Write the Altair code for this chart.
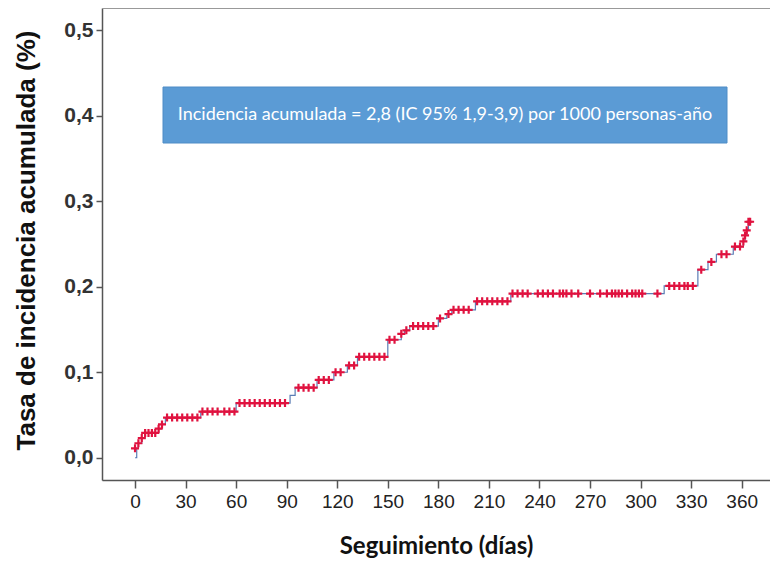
import altair as alt
import pandas as pd

# Step curve (day of event, cumulative incidence % after the step)
step_days = [0, 1, 2, 4, 6, 14, 16, 18, 39, 60, 92, 95, 108, 118, 126, 132, 150,
             158, 160, 163, 180, 185, 188, 202, 223, 314, 334, 340, 345, 355, 361,
             362, 363, 364, 365]
step_values = [0.000, 0.011, 0.017, 0.023, 0.029, 0.034, 0.039, 0.047, 0.054, 0.064,
               0.073, 0.082, 0.091, 0.100, 0.108, 0.118, 0.138, 0.145, 0.149, 0.154,
               0.163, 0.168, 0.173, 0.183, 0.192, 0.201, 0.220, 0.229, 0.238, 0.247,
               0.253, 0.260, 0.266, 0.276, 0.276]

# Censored observations (day, cumulative incidence %)
censor_days = [0, 2, 4, 6, 8, 10, 12, 14, 16,
               19, 22, 25, 28, 31, 34, 37,
               40, 43, 46, 49, 53, 56, 59,
               62, 65, 68, 71, 74, 77, 80, 83, 86, 89,
               97, 100, 103, 106,
               109, 112, 115,
               119, 122,
               127, 130,
               133, 136, 139, 142, 145, 148,
               151, 154, 158, 161,
               165, 168, 171, 174, 177,
               181, 186,
               189, 192, 195, 198,
               203, 206, 209, 212, 215, 218, 221,
               224, 227, 230, 233, 239, 242, 245, 248, 252, 254, 256, 259, 263,
               270, 276, 280, 283, 285, 287, 289, 292, 295, 297, 299, 301, 310,
               317, 320, 323, 326, 328, 331,
               336, 342, 348, 351, 356, 359, 361, 362, 363, 364, 365]
censor_values = [0.011, 0.017, 0.023, 0.029, 0.029, 0.029, 0.029, 0.034, 0.039,
                 0.047, 0.047, 0.047, 0.047, 0.047, 0.047, 0.047,
                 0.054, 0.054, 0.054, 0.054, 0.054, 0.054, 0.054,
                 0.064, 0.064, 0.064, 0.064, 0.064, 0.064, 0.064, 0.064, 0.064, 0.064,
                 0.082, 0.082, 0.082, 0.082,
                 0.091, 0.091, 0.091,
                 0.100, 0.100,
                 0.108, 0.108,
                 0.118, 0.118, 0.118, 0.118, 0.118, 0.118,
                 0.138, 0.138, 0.145, 0.149,
                 0.154, 0.154, 0.154, 0.154, 0.154,
                 0.163, 0.168,
                 0.173, 0.173, 0.173, 0.173,
                 0.183, 0.183, 0.183, 0.183, 0.183, 0.183, 0.183,
                 0.192, 0.192, 0.192, 0.192, 0.192, 0.192, 0.192, 0.192, 0.192,
                 0.192, 0.192, 0.192, 0.192,
                 0.192, 0.192, 0.192, 0.192, 0.192, 0.192, 0.192, 0.192, 0.192,
                 0.192, 0.192, 0.192, 0.192,
                 0.201, 0.201, 0.201, 0.201, 0.201, 0.201,
                 0.220, 0.229, 0.238, 0.238, 0.247, 0.247, 0.253, 0.260, 0.266,
                 0.276, 0.276]

x_ticks = list(range(0, 361, 30))
y_ticks = [0.0, 0.1, 0.2, 0.3, 0.4, 0.5]
box_text = "Incidencia acumulada = 2,8 (IC 95% 1,9-3,9) por 1000 personas-año"
x_title = "Seguimiento (días)"
y_title = "Tasa de incidencia acumulada (%)"

steps = pd.DataFrame({"day": step_days, "value": step_values})
censored = pd.DataFrame({"day": censor_days, "value": censor_values})

W, H = 668, 472

xscale = alt.Scale(domain=[-19.6, 376.8], nice=False, zero=False)
yscale = alt.Scale(domain=[-0.026, 0.526], nice=False, zero=False)

xaxis = alt.Axis(values=x_ticks, title=x_title, grid=False,
                 labelFont="Liberation Sans", labelFontSize=19, labelColor="#222",
                 labelPadding=4, tickSize=8, tickColor="#555", tickWidth=1.5,
                 domainColor="#555", domainWidth=1.5,
                 titleFont="Lato", titleFontSize=24, titleFontWeight="bold",
                 titleColor="#111", titleY=66, titleBaseline="middle")
yaxis = alt.Axis(values=y_ticks, title=y_title, grid=False,
                 labelExpr="replace(format(datum.value, '.1f'), '.', ',')",
                 labelFont="Liberation Sans", labelFontSize=21, labelFontWeight="bold",
                 labelColor="#333", labelPadding=3, tickSize=6, tickColor="#555",
                 tickWidth=1.5, domainColor="#555", domainWidth=1.5,
                 titleFont="Liberation Sans", titleFontSize=26, titleFontWeight="bold",
                 titleColor="#111", titleX=-76, titleY=H / 2 - 4, titleAngle=-90,
                 titleAlign="center", titleBaseline="middle")

line = alt.Chart(steps).mark_line(interpolate="step-after", color="#5B7DB5",
                                  strokeWidth=1.2).encode(
    x=alt.X("day:Q", scale=xscale, axis=xaxis),
    y=alt.Y("value:Q", scale=yscale, axis=yaxis),
)

plus = alt.Chart(censored).mark_point(
    shape="M-1,0L1,0M0,-1L0,1", filled=False, stroke="#E0123F", strokeWidth=2.2,
    size=64, opacity=1).encode(
    x=alt.X("day:Q", scale=xscale),
    y=alt.Y("value:Q", scale=yscale),
)

one = pd.DataFrame({"t": [box_text]})
box = alt.Chart(one).mark_rect(fill="#5B9BD5", stroke="#4F8CC6", strokeWidth=1).encode(
    x=alt.value(61), x2=alt.value(625), y=alt.value(79), y2=alt.value(135))
label = alt.Chart(one).mark_text(color="white", font="Lato", fontSize=18,
                                 align="center", baseline="middle").encode(
    x=alt.value(343), y=alt.value(107), text="t:N")

top = alt.Chart(one).mark_rule(color="#999", strokeWidth=2).encode(
    x=alt.value(0), x2=alt.value(W), y=alt.value(0))

chart = alt.layer(box, label, top, line, plus).properties(
    width=W, height=H,
    autosize=alt.AutoSizeParams(type="none"),
    padding={"left": 94, "top": 0, "right": 0, "bottom": 80},
).configure_view(stroke=None).configure(background="white")

chart.save("out.html", embed_options={"renderer": "svg", "actions": False})
